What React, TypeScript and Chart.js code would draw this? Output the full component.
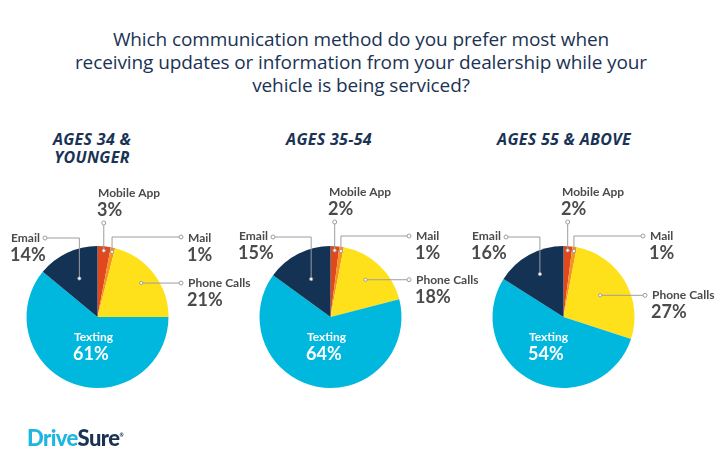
import React, { useEffect, useRef } from "react";
import { Chart, registerables } from "chart.js";

Chart.register(...registerables);

// ---------- data ----------
const TITLE_LINES = [
  "Which communication method do you prefer most when",
  "receiving updates or information from your dealership while your",
  "vehicle is being serviced?",
];
const CATEGORIES = ["Mobile App", "Mail", "Phone Calls", "Texting", "Email"];
const GROUP_TITLES = [["AGES 34 &", "YOUNGER"], ["AGES 35-54"], ["AGES 55 & ABOVE"]];
const AGES_34_YOUNGER = [3, 1, 21, 61, 14];
const AGES_35_54 = [2, 1, 18, 64, 15];
const AGES_55_ABOVE = [2, 1, 27, 54, 16];
const COLORS = ["#e0491d", "#f7931e", "#ffe11b", "#00b8de", "#133254"];

// ---------- layout ----------
const W = 720;
const H = 468;
const R = 71;
const FONT = "Lato, 'Open Sans', sans-serif";
const HEAD_FONT = "'Open Sans', Lato, sans-serif";
const LABEL_COLOR = "#4b4b4d";
const LINE_COLOR = "#9d9d9d";
const NAVY = "#1a3354";

type Layout = {
  cx: number;
  cy: number;
  titleX: number;
  mobile: { dx: number; base: number; hollow: number };
  mail: { dx: number; base: number; line: number };
  email: { dx: number; base: number; line: number; hollow: number; frac: number };
  phone: { dx: number; frac: number };
  texting: { dx: number; base: number };
};

const LAYOUTS: Layout[] = [
  {
    cx: 97.5, cy: 317, titleX: 92,
    mobile: { dx: 0.5, base: -120, hollow: -94 },
    mail: { dx: 90.5, base: -75, line: -80 },
    email: { dx: -86.5, base: -75, line: -79, hollow: -52.5, frac: 0.6 },
    phone: { dx: 90.5, frac: 0.78 },
    texting: { dx: -23.5, base: 24 },
  },
  {
    cx: 330.5, cy: 317, titleX: 329,
    mobile: { dx: -1.5, base: -121, hollow: -95 },
    mail: { dx: 85.5, base: -77, line: -81 },
    email: { dx: -91.5, base: -77, line: -80, hollow: -57.5, frac: 0.6 },
    phone: { dx: 85.5, frac: 0.72 },
    texting: { dx: -23.5, base: 24 },
  },
  {
    cx: 563.5, cy: 317, titleX: 564,
    mobile: { dx: -1.5, base: -121, hollow: -95 },
    mail: { dx: 86.5, base: -77, line: -81 },
    email: { dx: -91.5, base: -77, line: -80, hollow: -57.5, frac: 0.69 },
    phone: { dx: 88.5, frac: 0.6 },
    texting: { dx: -34.5, base: 24 },
  },
];

const SERIES = [AGES_34_YOUNGER, AGES_35_54, AGES_55_ABOVE];

function leaderPlugin(L: Layout) {
  return {
    id: "leaderLabels",
    afterDatasetsDraw(chart: any) {
      const ctx: CanvasRenderingContext2D = chart.ctx;
      const meta = chart.getDatasetMeta(0);
      const values: number[] = chart.data.datasets[0].data;
      const labels: string[] = chart.data.labels;
      const geo = (i: number, frac: number) => {
        const p = meta.data[i].getProps(["x", "y", "startAngle", "endAngle", "outerRadius"], true);
        const mid = (p.startAngle + p.endAngle) / 2;
        const r = p.outerRadius * frac;
        return { x: p.x + Math.cos(mid) * r, y: p.y + Math.sin(mid) * r, cx: p.x, cy: p.y };
      };
      const poly = (pts: number[][]) => {
        ctx.beginPath();
        ctx.moveTo(pts[0][0], pts[0][1]);
        for (let k = 1; k < pts.length; k++) ctx.lineTo(pts[k][0], pts[k][1]);
        ctx.strokeStyle = LINE_COLOR;
        ctx.lineWidth = 1;
        ctx.stroke();
      };
      const circle = (x: number, y: number, r: number) => {
        ctx.beginPath();
        ctx.arc(x, y, r, 0, Math.PI * 2);
        ctx.fillStyle = "#ffffff";
        ctx.fill();
        ctx.strokeStyle = LINE_COLOR;
        ctx.lineWidth = 1;
        ctx.stroke();
      };
      const text = (i: number, x: number, base: number, color: string) => {
        ctx.fillStyle = color;
        ctx.textAlign = "left";
        ctx.textBaseline = "alphabetic";
        ctx.font = `bold 12px ${FONT}`;
        ctx.fillText(labels[i], x, base);
        ctx.font = `bold 18px ${FONT}`;
        ctx.fillText(`${values[i]}%`, x - 1, base + 19);
      };

      ctx.save();
      const m = geo(0, 0.94);
      const cx = m.cx, cy = m.cy;
      poly([[m.x, cy + L.mobile.hollow], [m.x, m.y]]);
      const ma = geo(1, 0.94);
      const mailHollowX = cx + L.mail.dx - 7;
      poly([[ma.x, ma.y], [ma.x, cy + L.mail.line], [mailHollowX, cy + L.mail.line]]);
      const e = geo(4, L.email.frac);
      poly([[e.x, e.y], [e.x, cy + L.email.line], [cx + L.email.hollow, cy + L.email.line]]);
      const p = geo(2, L.phone.frac);
      const phoneHollowX = cx + L.phone.dx - 7;
      poly([[p.x, p.y], [phoneHollowX, p.y]]);

      circle(m.x, cy + L.mobile.hollow, 2);
      circle(m.x, m.y, 1.6);
      circle(ma.x, ma.y, 1.6);
      circle(mailHollowX, cy + L.mail.line, 2);
      circle(e.x, e.y, 1.6);
      circle(cx + L.email.hollow, cy + L.email.line, 2);
      circle(p.x, p.y, 1.6);
      circle(phoneHollowX, p.y, 2);

      text(0, cx + L.mobile.dx, cy + L.mobile.base, LABEL_COLOR);
      text(1, cx + L.mail.dx, cy + L.mail.base, LABEL_COLOR);
      text(4, cx + L.email.dx, cy + L.email.base, LABEL_COLOR);
      text(2, cx + L.phone.dx, p.y + 4, LABEL_COLOR);
      text(3, cx + L.texting.dx, cy + L.texting.base, "#ffffff");
      ctx.restore();
    },
  };
}

function PieCanvas({ values, layout }: { values: number[]; layout: Layout }) {
  const ref = useRef<HTMLCanvasElement>(null);
  useEffect(() => {
    if (!ref.current) return;
    const chart = new Chart(ref.current, {
      type: "pie",
      data: {
        labels: CATEGORIES,
        datasets: [
          {
            data: values,
            backgroundColor: COLORS,
            borderWidth: 0,
            hoverOffset: 0,
            offset: 0,
          } as any,
        ],
      },
      options: {
        responsive: false,
        maintainAspectRatio: false,
        animation: false,
        events: [],
        layout: {
          padding: {
            left: layout.cx - R,
            right: W - layout.cx - R,
            top: layout.cy - R,
            bottom: H - layout.cy - R,
          },
        },
        plugins: { legend: { display: false }, tooltip: { enabled: false } },
      },
      plugins: [leaderPlugin(layout)],
    });
    return () => chart.destroy();
  }, []);
  return (
    <canvas
      ref={ref}
      width={W}
      height={H}
      style={{ position: "absolute", left: 0, top: 0, width: W, height: H }}
    />
  );
}

export default function App() {
  return (
    <div
      style={{
        position: "fixed",
        left: 0,
        top: 0,
        width: W,
        height: H,
        background: "#ffffff",
        overflow: "hidden",
        fontFamily: FONT,
      }}
    >
      <div
        style={{
          position: "absolute",
          left: 0,
          top: 28,
          width: 722,
          textAlign: "center",
          fontFamily: HEAD_FONT,
          fontSize: 19,
          lineHeight: "23px",
          color: NAVY,
          fontWeight: 500,
          letterSpacing: -0.1,
        }}
      >
        {TITLE_LINES.map((t, i) => (
          <div key={i}>{t}</div>
        ))}
      </div>
      {GROUP_TITLES.map((lines, i) => (
        <div
          key={i}
          style={{
            position: "absolute",
            left: LAYOUTS[i].titleX - 100,
            width: 200,
            top: 130,
            textAlign: "center",
            fontFamily: HEAD_FONT,
            fontSize: 16,
            lineHeight: "18px",
            fontWeight: 700,
            fontStyle: "italic",
            letterSpacing: 0.3,
            color: NAVY,
          }}
        >
          {lines.map((t, k) => (
            <div key={k}>{t}</div>
          ))}
        </div>
      ))}
      {SERIES.map((v, i) => (
        <PieCanvas key={i} values={v} layout={LAYOUTS[i]} />
      ))}
      <div
        style={{
          position: "absolute",
          left: 27,
          top: 424,
          fontSize: 22,
          lineHeight: "22px",
          fontWeight: 900,
          letterSpacing: -0.6,
        }}
      >
        <span style={{ color: "#1fb5e3" }}>Drive</span>
        <span style={{ color: NAVY }}>Sure</span>
        <sup style={{ fontSize: 5, color: NAVY, verticalAlign: 9 }}>®</sup>
      </div>
    </div>
  );
}
